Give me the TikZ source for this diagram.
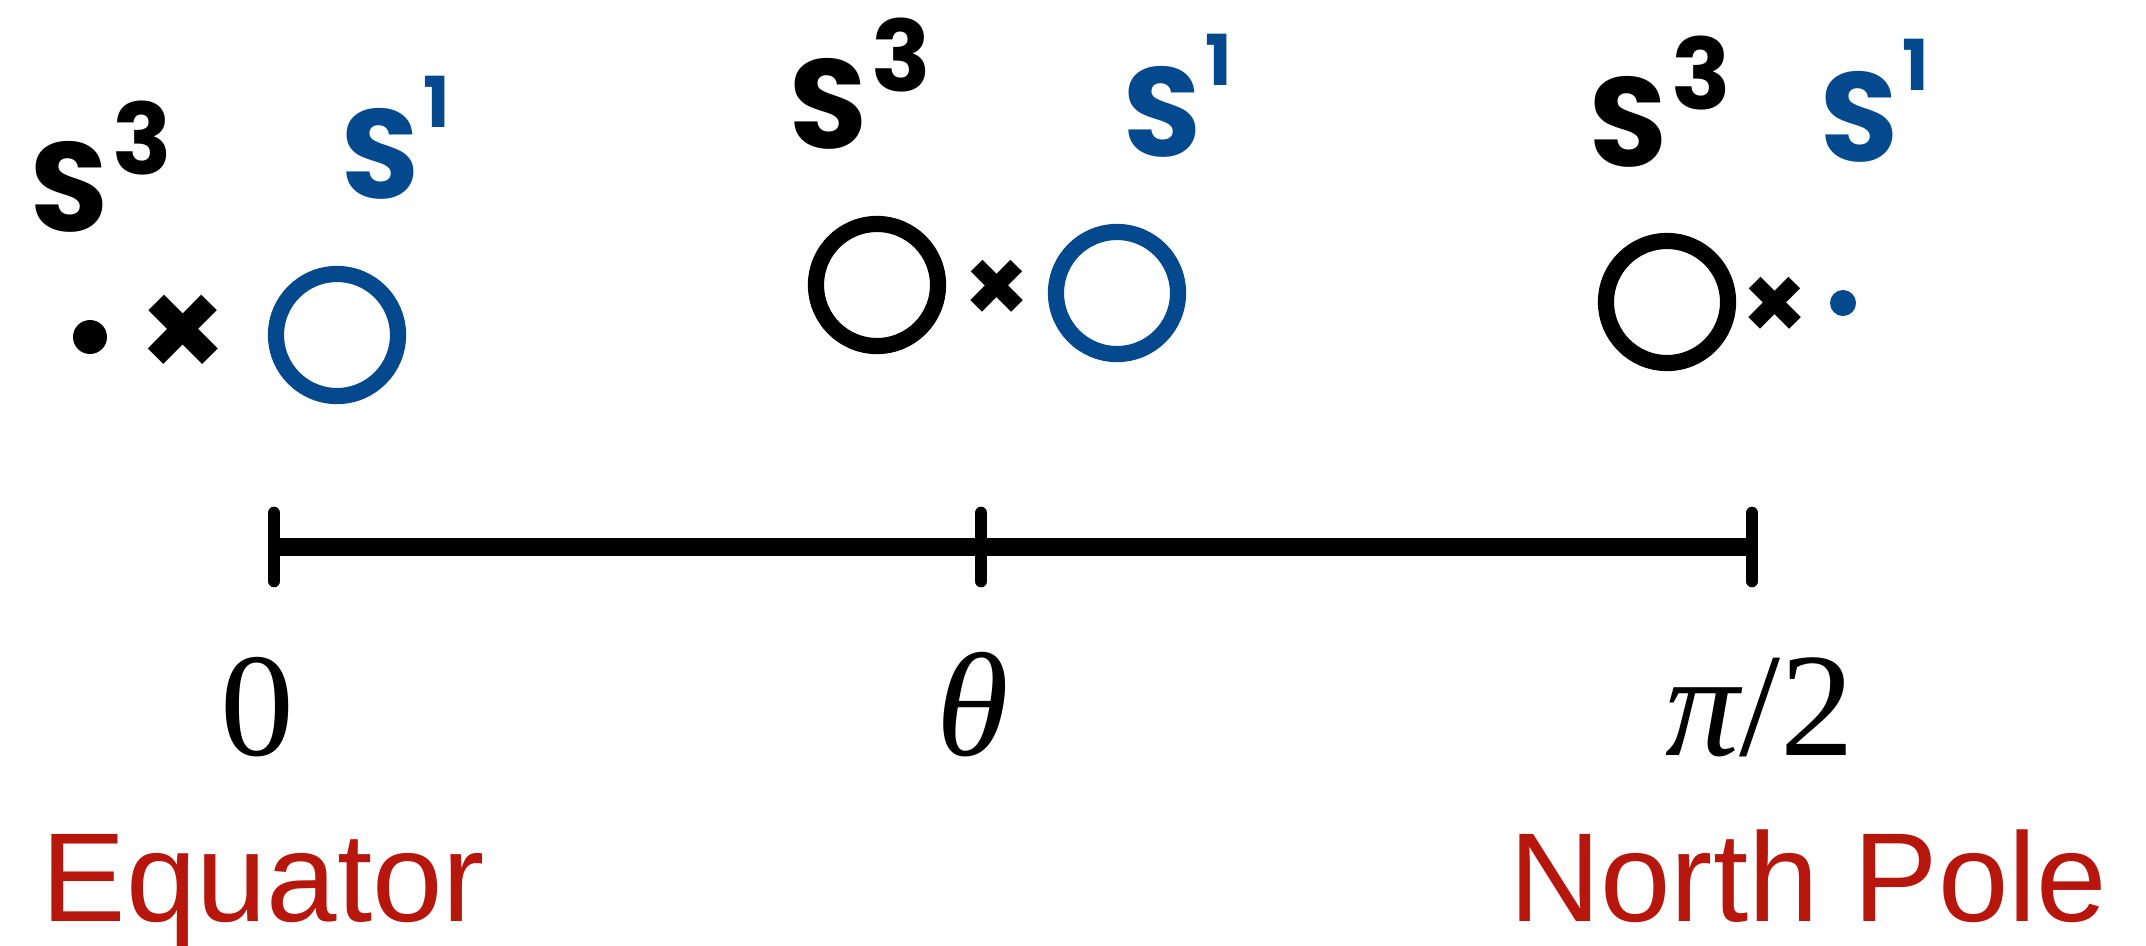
\documentclass[tikz,border=0pt]{standalone}
\usepackage{fontspec}
\usepackage{tikz}
\usepackage{xcolor}
\usetikzlibrary{positioning}
\setmainfont{Liberation Serif}
\setsansfont{Liberation Sans}
\newfontfamily\handfont{Poppins}
\definecolor{fiberblue}{RGB}{4,72,142}
\definecolor{polered}{RGB}{183,22,12}
\newcommand\sphlabel[3]{S\kern1pt\raisebox{#2}{\fontsize{#3}{#3}\selectfont #1}}

\begin{document}
\begin{tikzpicture}[
  x=0.01cm, y=-0.01cm,
  ring/.style={circle, draw, line width=4.6pt, minimum size=1.22cm, inner sep=0pt},
  blob/.style={circle, fill, minimum size=0.34cm, inner sep=0pt},
  sphere label/.style={font=\handfont\bfseries\fontsize{36}{36}\selectfont, inner sep=0pt, anchor=base west},
  times sign/.style={font=\handfont\bfseries\fontsize{30}{30}\selectfont, inner sep=0pt},
  tick label/.style={font=\fontsize{42}{42}\selectfont, anchor=base, inner sep=0pt},
  pole label/.style={font=\sffamily\fontsize{36}{36}\selectfont, text=polered, inner sep=0pt}
]
\useasboundingbox (0,0) rectangle (2146,945);
\def\axisy{547}
% the axis from equator to pole
\foreach \t/\x in {0/274,1/981,2/1752}
  \coordinate (tick\t) at (\x,\axisy);
\draw[line width=5pt] (tick0) -- (tick2);
\foreach \t in {0,1,2}
  \draw[line width=3.6pt, line cap=round] (tick\t) ++(0,-34) -- ++(0,68);
\node[tick label] (lab0) at (257,755) {0};
\node[tick label] (lab1) at (973,755) {\itshape θ};
\node[tick label] (lab2) at (1760,755) {{\itshape π}/2};
\node[pole label, anchor=base west] (equator) at (41,921) {Equator};
\node[pole label, anchor=base east] (pole) at (2108,921) {North Pole};
% fibres over the three points
\node[blob] (ptL) at (90,337) {};
\node[times sign, font=\handfont\bfseries\fontsize{40}{40}\selectfont] (xL) at (183,337) {×};
\node[ring, fiberblue] (fibL) at (337,335) {};
\node[ring] (baseM) at (877,285) {};
\node[times sign] (xM) at (997,292) {×};
\node[ring, fiberblue] (fibM) at (1117,293) {};
\node[ring] (baseR) at (1667,302) {};
\node[times sign] (xR) at (1775,309) {×};
\node[blob, fiberblue, minimum size=0.26cm] (ptR) at (1843,303) {};
\foreach \n/\x/\y in {L/30/231,M/789/148,R/1589/166}
  \node[sphere label] (sph\n) at (\x,\y) {\sphlabel{3}{16pt}{28}};
\foreach \n/\x/\y in {L/341/198,M/1123/156,R/1820/161}
  \node[sphere label, fiberblue] (cir\n) at (\x,\y) {\sphlabel{1}{20pt}{20}};
\end{tikzpicture}
\end{document}
